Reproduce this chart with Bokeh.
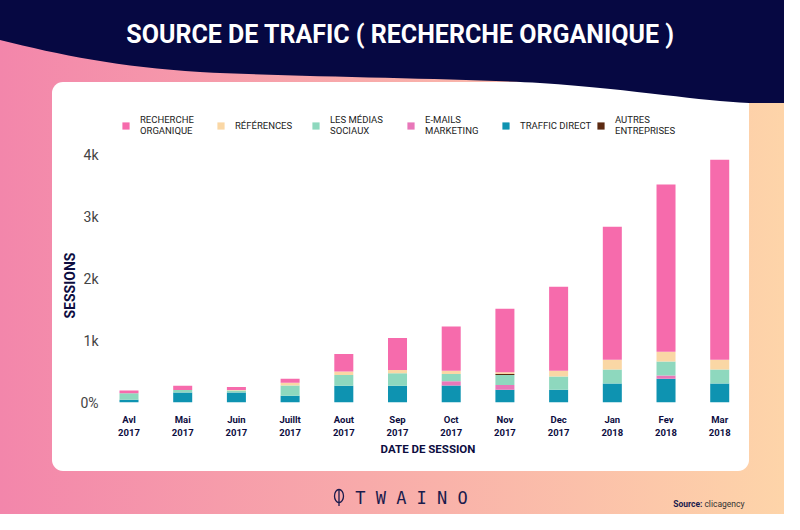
from urllib.parse import quote
from bokeh.plotting import figure
from bokeh.layouts import column
from bokeh.models import (ColumnDataSource, Range1d, FixedTicker, Legend, LegendItem,
                          Title, Label)
from bokeh.embed import file_html
from bokeh.resources import INLINE

# ---- data ----
months = ["Avl", "Mai", "Juin", "Juillt", "Aout", "Sep", "Oct", "Nov", "Dec", "Jan", "Fev", "Mar"]
years = ["2017"] * 9 + ["2018"] * 3
traffic_direct = [43, 163, 163, 108, 270, 270, 276, 205, 205, 306, 382, 306]
emails_marketing = [0, 0, 0, 0, 0, 0, 65, 76, 0, 0, 54, 0]
medias_sociaux = [108, 38, 30, 168, 173, 200, 119, 162, 216, 226, 226, 226]
autres_entreprises = [0, 0, 0, 0, 0, 0, 0, 16, 0, 0, 0, 0]
references = [0, 0, 10, 43, 59, 54, 54, 27, 92, 156, 156, 156]
recherche_organique = [43, 70, 49, 65, 281, 516, 710, 1027, 1355, 2145, 2699, 3226]
y_ticks = [0, 1000, 2000, 3000, 4000]
y_tick_labels = ["0%", "1k", "2k", "3k", "4k"]

W, H = 784, 514
H_TOP = 470            # chart part; footer strip below
LEFT, RIGHT = 110, 39  # frame borders (both figures)
NAVY = "#060842"
INK = "#0D0D3F"
FONT = "Roboto"

idx = list(range(len(months)))
source = ColumnDataSource(dict(
    x=idx,
    direct=traffic_direct, emails=emails_marketing, social=medias_sociaux,
    autres=autres_entreprises, refs=references, organic=recherche_organique,
))

# decorative background (gradient, white card, navy wave, leaf icon)
svg = (
    "<svg xmlns='http://www.w3.org/2000/svg' width='784' height='514'>"
    "<defs><linearGradient id='g' x1='0' x2='1' y1='0' y2='0'>"
    "<stop offset='0' stop-color='#F386AB'/><stop offset='1' stop-color='#FED6A9'/>"
    "</linearGradient></defs>"
    "<rect width='800' height='530' fill='url(#g)'/>"
    "<rect x='52' y='82' width='697' height='389' rx='11' fill='#ffffff'/>"
    "<path d='M0,0 H800 V103 L749,103 C700,101 640,90 540,83 C450,78 300,77 200,72 "
    "C120,67 60,55 0,40 Z' fill='" + NAVY + "'/>"
    "<ellipse cx='339' cy='496' rx='4.5' ry='6.5' fill='none' stroke='#1b1b4d' stroke-width='1.3'/>"
    "<line x1='339' y1='489' x2='339' y2='506' stroke='#1b1b4d' stroke-width='1.3'/>"
    "</svg>"
)
bg = 'url("data:image/svg+xml,' + quote(svg) + '")'

# ---------------- main chart ----------------
p = figure(width=W, height=H_TOP, output_backend="svg", toolbar_location=None,
           x_range=Range1d(-0.3445, 11.48), y_range=Range1d(0, 6484),
           min_border_left=LEFT, min_border_right=RIGHT, min_border_top=0,
           min_border_bottom=68)
p.extra_x_ranges = {"px": Range1d(LEFT, W - RIGHT)}
p.extra_y_ranges = {"px": Range1d(402, 0)}
p.styles = {"background-image": bg, "background-repeat": "no-repeat",
            "background-position": "0px 0px"}
p.background_fill_color = None
p.border_fill_color = None
p.outline_line_color = None
p.grid.visible = False

stack = ["direct", "emails", "social", "autres", "refs", "organic"]
colors = ["#0E93B1", "#E877B9", "#8ED8BE", "#5C2A12", "#FAD7A5", "#F66BAC"]
rs = p.vbar_stack(stack, x="x", width=0.354, color=colors, line_color=None, source=source)
r = dict(zip(stack, rs))

# axes
p.xaxis.ticker = FixedTicker(ticks=idx)
p.xaxis.major_label_overrides = {i: f"{m}\n{y}" for i, m, y in zip(idx, months, years)}
p.xaxis.major_label_text_font = FONT
p.xaxis.major_label_text_font_style = "bold"
p.xaxis.major_label_text_font_size = "9.5px"
p.xaxis.major_label_text_color = INK
p.xaxis.major_label_standoff = 5
p.xaxis.axis_label = "DATE DE SESSION"
p.xaxis.axis_label_text_font = FONT
p.xaxis.axis_label_text_font_style = "bold"
p.xaxis.axis_label_text_font_size = "11.5px"
p.xaxis.axis_label_text_color = INK
p.xaxis.axis_label_standoff = 1

p.yaxis.ticker = FixedTicker(ticks=y_ticks)
p.yaxis.major_label_overrides = dict(zip(y_ticks, y_tick_labels))
p.yaxis.major_label_text_font = FONT
p.yaxis.major_label_text_font_size = "14px"
p.yaxis.major_label_text_color = "#444444"
p.yaxis.major_label_standoff = 6

for ax in (p.xaxis, p.yaxis):
    ax.axis_line_color = None
    ax.major_tick_line_color = None
    ax.minor_tick_line_color = None

# legend
legend = Legend(items=[
    LegendItem(label="RECHERCHE\nORGANIQUE", renderers=[r["organic"]]),
    LegendItem(label="RÉFÉRENCES", renderers=[r["refs"]]),
    LegendItem(label="LES MÉDIAS\nSOCIAUX", renderers=[r["social"]]),
    LegendItem(label="E-MAILS\nMARKETING", renderers=[r["emails"]]),
    LegendItem(label="TRAFFIC DIRECT", renderers=[r["direct"]]),
    LegendItem(label="AUTRES\nENTREPRISES", renderers=[r["autres"]]),
], orientation="horizontal", location=(11, 266), margin=0, padding=2,
    spacing=4, glyph_width=9, glyph_height=9, label_standoff=10, label_width=72,
    label_text_font=FONT, label_text_font_size="9.5px", label_text_color="#222222",
    label_text_line_height=1.25, background_fill_alpha=0, border_line_color=None)
p.add_layout(legend)

# main title inside the (transparent) frame, on the navy band
p.add_layout(Label(x=400, y=34, x_range_name="px", y_range_name="px",
                   text="SOURCE DE TRAFIC ( RECHERCHE ORGANIQUE )",
                   text_align="center", text_baseline="middle", text_color="white",
                   text_font=FONT, text_font_style="bold", text_font_size="25px"))

# vertical axis title
p.add_layout(Title(text="SESSIONS", align="left", offset=84, vertical_align="bottom",
                   standoff=0, text_color=INK, text_font=FONT, text_font_style="bold",
                   text_font_size="14px"), "left")

# ---------------- footer strip ----------------
f = figure(width=W, height=H - H_TOP, output_backend="svg", toolbar_location=None,
           x_range=Range1d(LEFT, W - RIGHT), y_range=Range1d(H, H_TOP),
           x_axis_location=None, y_axis_location=None,
           min_border_left=LEFT, min_border_right=RIGHT, min_border_top=0,
           min_border_bottom=0)
f.styles = {"background-image": bg, "background-repeat": "no-repeat",
            "background-position": f"0px -{H_TOP}px"}
f.background_fill_color = None
f.border_fill_color = None
f.outline_line_color = None
f.grid.visible = False
f.add_layout(Label(x=411, y=497, text="T W A I N O", text_align="center",
                   text_baseline="middle", text_color="#1b1b4d",
                   text_font="DejaVu Sans Mono", text_font_size="17px"))
f.add_layout(Label(x=702, y=503, text="Source:", text_align="right", text_baseline="middle",
                   text_color="#1b1b4d", text_font=FONT, text_font_style="bold",
                   text_font_size="8.5px"))
f.add_layout(Label(x=744, y=503, text="clicagency", text_align="right",
                   text_baseline="middle", text_color="#333333", text_font=FONT,
                   text_font_size="8.5px"))

layout = column(p, f, spacing=0)
open("out.html", "w").write(file_html(layout, INLINE))
